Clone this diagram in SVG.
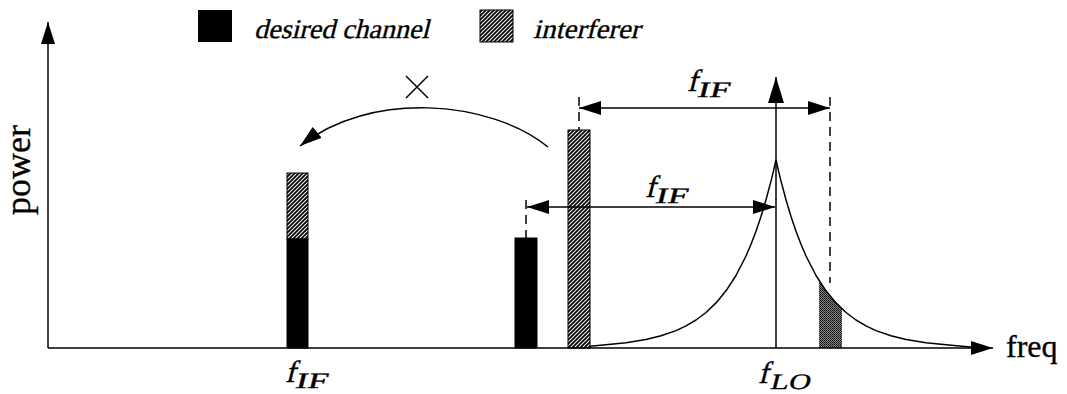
<svg xmlns="http://www.w3.org/2000/svg" width="1067" height="394" viewBox="0 0 1067 394">
<style>
.ln{stroke:#000;stroke-width:1.5;fill:none}
.dash{stroke:#000;stroke-width:1.5;stroke-dasharray:9 6;fill:none}
.bar{stroke:#000;stroke-width:1}
.lab{font-family:"Liberation Serif","Times New Roman",serif;fill:#000;stroke:#000;stroke-width:0.35}
</style>
<defs>
<pattern id="hatch" patternUnits="userSpaceOnUse" width="4" height="4">
<rect width="4" height="4" fill="#fff"/>
<path d="M-1,1 L1,-1 M0,4 L4,0 M3,5 L5,3" stroke="#000" stroke-width="1.8"/>
</pattern>
<pattern id="stip" patternUnits="userSpaceOnUse" width="2" height="2">
<rect width="2" height="2" fill="#8a8a8a"/>
<rect width="1" height="1" fill="#000"/>
<rect x="1" y="1" width="1" height="1" fill="#222"/>
</pattern>
<marker id="ah" markerUnits="userSpaceOnUse" markerWidth="22" markerHeight="14" refX="22" refY="7" orient="auto-start-reverse">
<path d="M0,0 L22,7 L0,14 z" fill="#000"/>
</marker>
<marker id="ahL" markerUnits="userSpaceOnUse" markerWidth="26" markerHeight="16" refX="26" refY="8" orient="auto-start-reverse">
<path d="M0,0 L26,8 L0,16 z" fill="#000"/>
</marker>
</defs>
<rect width="1067" height="394" fill="#fff"/>

<g id="legend">
<rect x="198" y="10" width="34" height="32" fill="#000"/>
<g transform="translate(254,38) skewX(-14)"><text class="lab" x="0" y="0" font-size="27" textLength="175" lengthAdjust="spacingAndGlyphs">desired channel</text></g>
<rect x="480" y="10" width="33" height="32" fill="url(#hatch)" stroke="#000" stroke-width="1"/>
<g transform="translate(533,38) skewX(-14)"><text class="lab" x="0" y="0" font-size="27" textLength="107" lengthAdjust="spacingAndGlyphs">interferer</text></g>
</g>

<g id="axis-labels">
<text class="lab" transform="translate(30,170) rotate(-90)" text-anchor="middle" font-size="36">power</text>
<text class="lab" x="1006" y="357" font-size="32">freq</text>
</g>

<g id="lo-spectrum">
<polygon points="819,348 819,280.5 826,290.8 836,302.9 842,308.9 842,348" fill="url(#stip)"/>
<polyline class="ln" stroke-width="1.3" stroke-linejoin="round" points="576,347.6 606,344.7 626,342.7 646,339.5 661,335.8 676,330.6 686,325.9 696,320 706,312.5 716,302.9 726,290.8 736,275.5 746,256 751,244.3 756,231.2 761,216.5 766,199.8 771,181.1 773.5,170.9 776,160 778.5,170.9 781,181.1 786,199.8 791,216.5 796,231.2 801,244.3 806,256 816,275.5 826,290.8 836,302.9 846,312.5 856,320 866,325.9 876,330.6 891,335.8 906,339.5 926,342.7 946,344.7 976,347.6"/>
</g>

<g id="bar-image">
<rect class="bar" x="287" y="173" width="21" height="66" fill="url(#hatch)"/>
<rect class="bar" x="287" y="239" width="21" height="109" fill="#000"/>
</g>
<g id="bar-desired">
<rect class="bar" x="515" y="238" width="22" height="110" fill="#000"/>
</g>
<g id="bar-interferer">
<rect class="bar" x="568" y="130" width="22" height="218" fill="url(#hatch)"/>
</g>

<g id="connectors">
<line class="ln" x1="48" y1="348" x2="48" y2="22" marker-end="url(#ah)"/>
<line class="ln" x1="48" y1="348" x2="993" y2="348" marker-end="url(#ah)"/>
<line class="ln" x1="776" y1="348" x2="776" y2="77" marker-end="url(#ahL)"/>
<line class="ln" x1="579" y1="108" x2="830" y2="108" marker-start="url(#ah)" marker-end="url(#ah)"/>
<line class="ln" x1="527" y1="207" x2="775" y2="207" marker-start="url(#ah)" marker-end="url(#ah)"/>
<line class="dash" x1="579" y1="97" x2="579" y2="130"/>
<line class="dash" x1="830" y1="97" x2="830" y2="283"/>
<line class="dash" x1="526" y1="200" x2="526" y2="238"/>
<path class="ln" d="M548,147 C490,100 370,90 300,146" marker-end="url(#ah)"/>
<path class="ln" stroke-width="1.3" d="M406,76 L428,98 M428,76 L406,98"/>
</g>

<g id="freq-labels">
<g transform="translate(687,91) skewX(-14)"><text class="lab" font-size="31">f</text><text class="lab" x="11" y="6" font-size="22" textLength="32" lengthAdjust="spacingAndGlyphs">IF</text></g>
<g transform="translate(645,197) skewX(-14)"><text class="lab" font-size="31">f</text><text class="lab" x="11" y="6" font-size="22" textLength="32" lengthAdjust="spacingAndGlyphs">IF</text></g>
<g transform="translate(285,382) skewX(-14)"><text class="lab" font-size="31">f</text><text class="lab" x="11" y="6" font-size="22" textLength="32" lengthAdjust="spacingAndGlyphs">IF</text></g>
<g transform="translate(758,383) skewX(-14)"><text class="lab" font-size="31">f</text><text class="lab" x="13" y="6" font-size="22" textLength="40" lengthAdjust="spacingAndGlyphs">LO</text></g>
</g>
</svg>
